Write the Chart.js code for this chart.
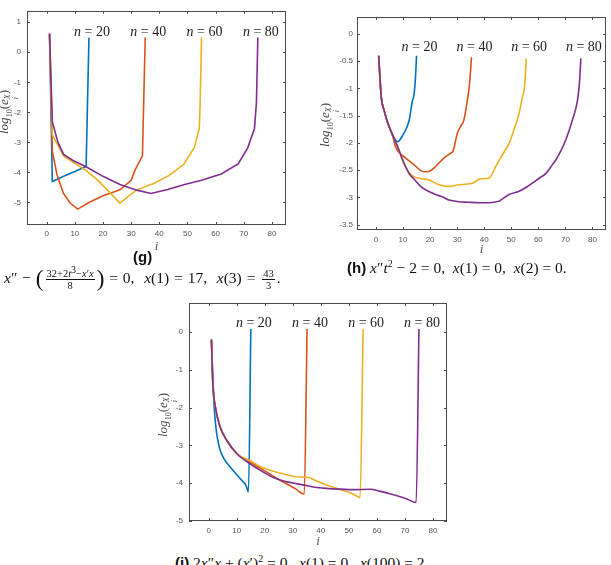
<!DOCTYPE html>
<html>
<head>
<meta charset="utf-8">
<script src="https://cdn.jsdelivr.net/npm/chart.js@4.4.1/dist/chart.umd.min.js"></script>
<style>
  html, body { margin: 0; padding: 0; background: #fff; }
  #page { position: relative; width: 611px; height: 565px; overflow: hidden; background: #fff; }
  canvas { position: absolute; }
  .ylab { position: absolute; transform: translate(-50%, -50%) rotate(-90deg); white-space: nowrap;
          font: 13px "Liberation Serif", serif; color: #444; }
  .ylab i { font-style: italic; }
  .ss { display: inline-flex; flex-direction: column; vertical-align: -2px; font-size: 8px; line-height: 8px; font-style: italic; }
  .cap { position: absolute; white-space: nowrap; font: 15.5px/18px "Liberation Serif", serif; color: #111; }
  .cap i { font-style: italic; }
  .wide { word-spacing: 1px; }
  .tag { font: bold 15px "Liberation Sans", Arial, sans-serif; }
  .frac { display: inline-flex; flex-direction: column; align-items: center; vertical-align: middle; font-size: 10.5px; line-height: 11px; margin: 0 2px; word-spacing: 0; }
  .frac > span:first-child { border-bottom: 0.8px solid #111; padding: 0 1px; }
  .big { font-size: 23px; vertical-align: -3px; }
  .cap sup { font-size: 10px; line-height: 0; }
  sup, sub { font-size: 8px; line-height: 0; }
</style>
</head>
<body>
<div id="page">
  <canvas id="chartG" width="300" height="258" style="left:0;top:0"></canvas>
  <canvas id="chartH" width="311" height="258" style="left:300px;top:0"></canvas>
  <canvas id="chartI" width="310" height="260" style="left:150px;top:290px"></canvas>

  <div class="ylab" style="left:8px;top:112px"><i>log</i><sub>10</sub>(<i>e</i><span class="ss"><span>X</span><span>i</span></span>)</div>
  <div class="ylab" style="left:329px;top:125px"><i>log</i><sub>10</sub>(<i>e</i><span class="ss"><span>X</span><span>i</span></span>)</div>
  <div class="ylab" style="left:167px;top:415px"><i>log</i><sub>10</sub>(<i>e</i><span class="ss"><span>X</span><span>i</span></span>)</div>

  <div class="cap tag" style="left:133px;top:248px">(g)</div>
  <div class="cap wide" style="left:4px;top:268px"><i>x</i>″ − <span class="big">(</span><span class="frac"><span>32+2<i>t</i><sup>3</sup>−<i>x</i>′<i>x</i></span><span>8</span></span><span class="big">)</span> = 0, &nbsp;<i>x</i>(1) = 17, &nbsp;<i>x</i>(3) = <span class="frac"><span>43</span><span>3</span></span>.</div>
  <div class="cap" style="left:347px;top:259px"><span class="tag">(h)</span> <i>x</i>″<i>t</i><sup>2</sup> − 2 = 0, &nbsp;<i>x</i>(1) = 0, &nbsp;<i>x</i>(2) = 0.</div>
  <div class="cap" style="left:175px;top:554px"><span class="tag">(i)</span> 2<i>x</i>″<i>x</i> + (<i>x</i>′)<sup>2</sup> = 0, &nbsp;<i>x</i>(1) = 0, &nbsp;<i>x</i>(100) = 2.</div>
</div>

<script>
'use strict';

// ============================================================
// DATA
// ============================================================
const N_LABELS = ['20', '40', '60', '80'];
const X_TICKS  = [0, 10, 20, 30, 40, 50, 60, 70, 80];
const G_Y_TICKS = [1, 0, -1, -2, -3, -4, -5];
const H_Y_TICKS = [0, -0.5, -1, -1.5, -2, -2.5, -3, -3.5];
const I_Y_TICKS = [0, -1, -2, -3, -4, -5];

// (g)
const gX20 = [1, 2, 6, 10, 14, 15];
const gY20 = [0.6, -4.3, -4.13, -3.97, -3.8, 0.48];
const gX40 = [1, 2, 3.6, 5.9, 8.3, 11, 15, 20, 26, 30, 31.5, 34, 35];
const gY40 = [0.6, -3.29, -4.05, -4.69, -5.02, -5.22, -5.0, -4.78, -4.58, -4.26, -3.9, -3.45, 0.49];
const gX60 = [1, 2, 6, 10, 14, 18, 21.5, 26, 29, 32, 38, 43.5, 48.8, 52.4, 54.2, 54.5, 55];
const gY60 = [0.6, -2.75, -3.45, -3.7, -3.94, -4.25, -4.58, -5.02, -4.8, -4.58, -4.37, -4.1, -3.72, -3.18, -2.54, -1.67, 0.49];
const gX80 = [1, 2, 4, 6, 9.5, 14, 20, 26, 32, 37, 43, 49, 55, 62, 68, 71.4, 73.8, 74.5, 75];
const gY80 = [0.63, -2.32, -3.0, -3.4, -3.61, -3.81, -4.13, -4.4, -4.59, -4.7, -4.57, -4.4, -4.26, -4.05, -3.72, -3.18, -2.54, -1.67, 0.49];

// (h)
const hX20 = [1, 2, 3, 4, 5, 6, 7, 8, 10, 12.2, 13.4, 14.1, 14.6, 15];
const hY20 = [-0.4, -1.18, -1.4, -1.58, -1.72, -1.84, -1.93, -1.98, -1.85, -1.6, -1.25, -1.1, -0.8, -0.4];
const hX40 = [1, 2, 3, 4, 5, 6, 7.3, 9, 11, 13, 14.7, 16.3, 17.8, 19, 20.2, 21.7, 23.3, 25.1, 27.6, 28.5, 30.1, 31.5, 32.5, 33.8, 34.6, 35.3];
const hY40 = [-0.4, -1.18, -1.4, -1.58, -1.72, -1.84, -2.08, -2.2, -2.28, -2.36, -2.43, -2.5, -2.53, -2.53, -2.51, -2.45, -2.37, -2.28, -2.19, -2.15, -1.82, -1.68, -1.58, -1.21, -0.91, -0.43];
const hX60 = [1, 2, 3, 4, 5, 6, 7, 8.5, 10, 12.2, 14, 15.9, 17, 19.6, 23.3, 27, 30.7, 33, 35.6, 38.1, 39.3, 41.8, 44.3, 46.7, 49.2, 51, 52.9, 53.9, 55, 55.5];
const hY60 = [-0.4, -1.18, -1.4, -1.58, -1.72, -1.84, -1.95, -2.13, -2.35, -2.54, -2.62, -2.65, -2.66, -2.68, -2.77, -2.8, -2.77, -2.76, -2.74, -2.67, -2.66, -2.65, -2.43, -2.22, -2.01, -1.76, -1.46, -1.21, -0.91, -0.45];
const hX80 = [1, 2, 3, 4, 5, 6, 7, 8.5, 10, 12.2, 14, 16.5, 19, 22.1, 24.5, 27, 30.7, 34, 38.1, 41, 43.5, 45.5, 47, 49.2, 52.9, 55.4, 57.8, 60.3, 62.8, 65.2, 66.5, 68.5, 70.2, 72.6, 74.5, 75.2, 75.7];
const hY80 = [-0.4, -1.18, -1.4, -1.58, -1.72, -1.84, -1.95, -2.13, -2.33, -2.56, -2.66, -2.8, -2.88, -2.95, -2.99, -3.05, -3.08, -3.09, -3.1, -3.1, -3.09, -3.07, -3.02, -2.95, -2.89, -2.82, -2.74, -2.65, -2.56, -2.4, -2.31, -2.13, -1.94, -1.58, -1.21, -0.9, -0.45];

// (i)
const iX20 = [1, 1.5, 2, 2.5, 3, 4, 5.3, 8, 11.3, 13.4, 14.2, 15.05];
const iY20 = [-0.2, -1.2, -2.0, -2.45, -2.75, -3.1, -3.33, -3.6, -3.88, -4.07, -4.23, 0.08];
const iX40 = [1, 1.5, 2.4, 4.1, 6.5, 10.1, 14.8, 18.4, 21.9, 25, 27.9, 31, 34.1, 35.1];
const iY40 = [-0.2, -1.36, -1.98, -2.51, -2.87, -3.22, -3.45, -3.6, -3.76, -3.9, -4.02, -4.15, -4.29, 0.08];
const iX60 = [1, 1.5, 2.4, 4.1, 6.5, 10.1, 14.8, 18.4, 24.3, 31.4, 35.6, 37.9, 42.1, 46.8, 51.6, 54, 55.1];
const iY60 = [-0.2, -1.36, -1.98, -2.51, -2.87, -3.22, -3.4, -3.56, -3.71, -3.83, -3.85, -3.92, -4.05, -4.16, -4.29, -4.38, 0.08];
const iX80 = [1, 1.5, 2.4, 4.1, 6.5, 10.1, 14.8, 19.6, 23.1, 27, 30.5, 34, 37.3, 41, 44.4, 51.6, 57.5, 61, 64.6, 70.5, 74, 75];
const iY80 = [-0.2, -1.36, -1.98, -2.51, -2.87, -3.22, -3.49, -3.71, -3.85, -3.95, -4.0, -4.05, -4.1, -4.13, -4.15, -4.17, -4.16, -4.21, -4.28, -4.41, -4.51, 0.08];

// ============================================================
// STYLE
// ============================================================
const COLORS = ['#0072BD', '#D95319', '#EDB120', '#7E2F8E'];
const AXIS_COLOR = '#4a4a4a';
const TICK_COLOR = '#555';

// box + inward ticks on all four sides (MATLAB look)
const boxTicks = {
  id: 'boxTicks',
  beforeDatasetsDraw(chart) {
    const { ctx, chartArea: a, scales: { x, y } } = chart;
    const len = 3;
    ctx.save();
    ctx.strokeStyle = AXIS_COLOR;
    ctx.lineWidth = 1;
    ctx.strokeRect(Math.round(a.left) + 0.5, Math.round(a.top) + 0.5, Math.round(a.width) - 1, Math.round(a.height) - 1);
    ctx.beginPath();
    x.ticks.forEach(t => {
      const px = Math.round(x.getPixelForValue(t.value)) + 0.5;
      ctx.moveTo(px, a.bottom); ctx.lineTo(px, a.bottom - len);
      ctx.moveTo(px, a.top);    ctx.lineTo(px, a.top + len);
    });
    y.ticks.forEach(t => {
      const py = Math.round(y.getPixelForValue(t.value)) + 0.5;
      ctx.moveTo(a.left, py);  ctx.lineTo(a.left + len, py);
      ctx.moveTo(a.right, py); ctx.lineTo(a.right - len, py);
    });
    ctx.stroke();
    ctx.restore();
  }
};

// "n = 20" ... labels above the end of each curve
const nLabels = {
  id: 'nLabels',
  afterDatasetsDraw(chart, args, opts) {
    const { ctx, scales: { y } } = chart;
    const py = y.getPixelForValue(opts.labelY);
    ctx.save();
    ctx.fillStyle = '#222';
    ctx.textBaseline = 'middle';
    chart.data.datasets.forEach((ds, i) => {
      const meta = chart.getDatasetMeta(i);
      const last = meta.data[meta.data.length - 1];
      const fontI = 'italic 14px "Liberation Serif", serif';
      const fontR = '14px "Liberation Serif", serif';
      const rest = ' = ' + ds.nLabel;
      ctx.font = fontI; const w1 = ctx.measureText('n').width;
      ctx.font = fontR; const w2 = ctx.measureText(rest).width;
      const cx = last.x + opts.dx;
      const x0 = cx - (w1 + w2) / 2;
      ctx.font = fontI; ctx.fillText('n', x0, py);
      ctx.font = fontR; ctx.fillText(rest, x0 + w1, py);
    });
    ctx.restore();
  }
};

function toPoints(xs, ys) { return xs.map((x, i) => ({ x, y: ys[i] })); }

function makePanel(id, p) {
  const canvas = document.getElementById(id);
  const W = canvas.width, H = canvas.height;
  const datasets = p.series.map((s, i) => ({
    data: toPoints(s[0], s[1]),
    nLabel: N_LABELS[i],
    borderColor: COLORS[i],
    borderWidth: 1.6,
    pointRadius: 0,
    fill: false,
    tension: 0,
    cubicInterpolationMode: p.smooth ? 'monotone' : 'default',
    order: 3 - i,
  }));
  const tickFont = { family: '"Liberation Sans", Arial, sans-serif', size: 8 };
  return new Chart(canvas, {
    type: 'line',
    data: { datasets },
    options: {
      responsive: false, animation: false, devicePixelRatio: 1,
      layout: { padding: { left: 0, top: p.area.t, right: W - p.area.r, bottom: 0 } },
      plugins: {
        legend: { display: false }, tooltip: { enabled: false },
        nLabels: { labelY: p.labelY, dx: 3 },
      },
      scales: {
        x: {
          type: 'linear', min: -7, max: 85,
          afterBuildTicks: s => { s.ticks = X_TICKS.map(v => ({ value: v })); },
          afterFit: s => { s.height = H - p.area.b; },
          grid: { display: false, drawTicks: false }, border: { display: false },
          ticks: { color: TICK_COLOR, font: tickFont, padding: p.xPad, maxRotation: 0, autoSkip: false, callback: v => String(v) },
          title: { display: true, text: 'i', color: '#555', font: { family: '"Liberation Serif", serif', style: 'italic', size: 13 }, padding: { top: p.tPad, bottom: p.tPad } },
        },
        y: {
          type: 'linear', min: p.yMin, max: p.yMax,
          afterBuildTicks: s => { s.ticks = p.yTicks.map(v => ({ value: v })); },
          afterFit: s => { s.width = p.area.l; },
          grid: { display: false, drawTicks: false }, border: { display: false },
          ticks: { color: TICK_COLOR, font: tickFont, padding: p.yPad, autoSkip: false, callback: v => String(v) },
        },
      },
    },
    plugins: [boxTicks, nLabels],
  });
}

makePanel('chartG', {
  series: [[gX20, gY20], [gX40, gY40], [gX60, gY60], [gX80, gY80]],
  yMin: -5.75, yMax: 1.38, yTicks: G_Y_TICKS, smooth: false,
  area: { l: 27, t: 5, r: 286, b: 225 }, labelY: 0.65, xPad: 4, yPad: 6, tPad: 4,
});
makePanel('chartH', {
  series: [[hX20, hY20], [hX40, hY40], [hX60, hY60], [hX80, hY80]],
  yMin: -3.6, yMax: 0.31, yTicks: H_Y_TICKS, smooth: true,
  area: { l: 57, t: 17, r: 306, b: 230 }, labelY: -0.25, xPad: 5, yPad: 4, tPad: 1,
});
makePanel('chartI', {
  series: [[iX20, iY20], [iX40, iY40], [iX60, iY60], [iX80, iY80]],
  yMin: -5, yMax: 0.77, yTicks: I_Y_TICKS, smooth: true,
  area: { l: 39, t: 13, r: 297, b: 231 }, labelY: 0.24, xPad: 5, yPad: 6, tPad: 0.5,
});
</script>
</body>
</html>
